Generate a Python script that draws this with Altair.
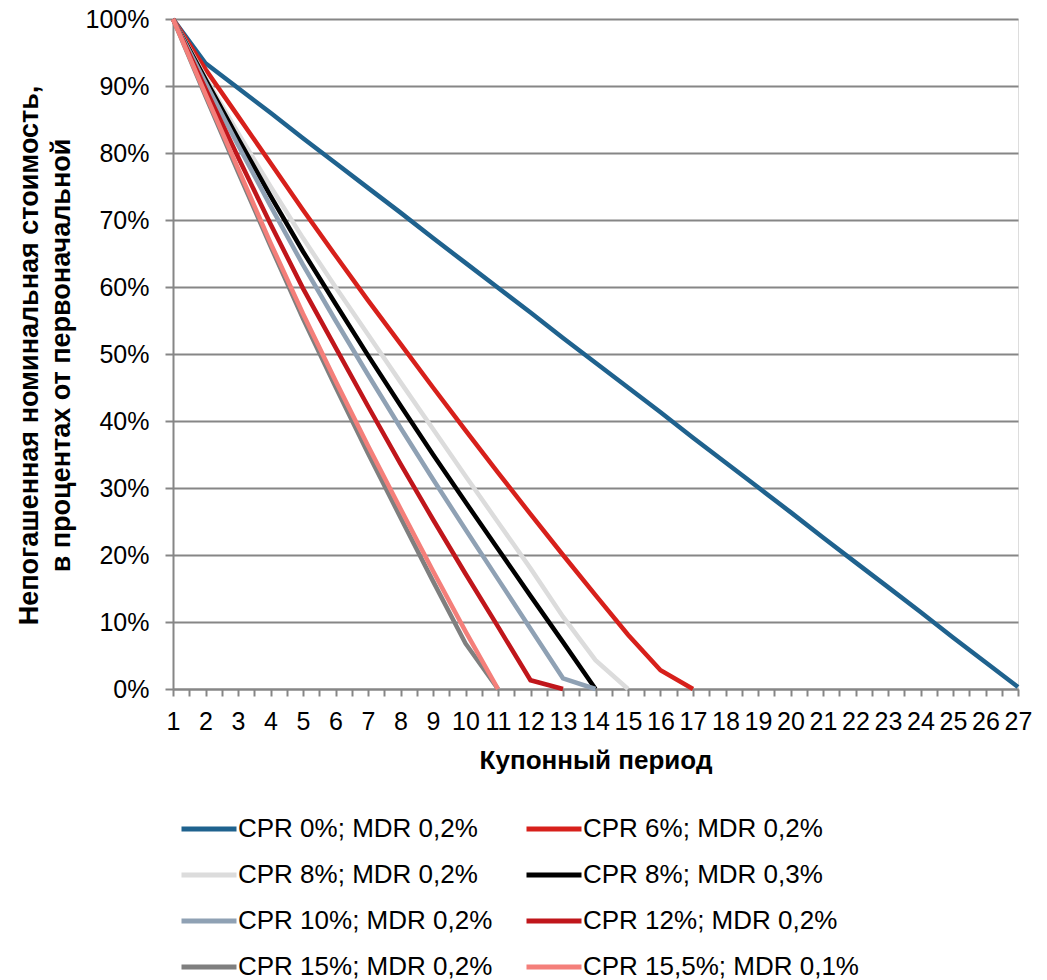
import altair as alt
import pandas as pd

series_names = [
    "CPR 0%; MDR 0,2%", "CPR 6%; MDR 0,2%",
    "CPR 8%; MDR 0,2%", "CPR 8%; MDR 0,3%",
    "CPR 10%; MDR 0,2%", "CPR 12%; MDR 0,2%",
    "CPR 15%; MDR 0,2%", "CPR 15,5%; MDR 0,1%",
]
series_colors = ["#1f628e", "#d7201b", "#dcdcdc", "#000000",
                 "#8fa1b4", "#c0161b", "#7f7f7f", "#f47f7a"]

# remaining nominal value (%) by coupon period, starting at period 1
cpr0_mdr02 = [100, 93.4, 89.7, 86.0, 82.2, 78.5, 74.8, 71.1, 67.3, 63.6, 59.9, 56.2, 52.4, 48.7,
              45.0, 41.3, 37.5, 33.8, 30.1, 26.4, 22.6, 18.9, 15.2, 11.5, 7.7, 4.0, 0.3]
cpr6_mdr02 = [100, 92.5, 85.5, 78.5, 71.5, 64.7, 58.0, 51.5, 45.0, 38.6, 32.3, 26.1, 20.0, 14.0, 8.1, 2.8, 0]
cpr8_mdr02 = [100, 91.3, 83.0, 75.0, 67.3, 60.0, 52.9, 45.8, 38.8, 31.8, 24.9, 18.0, 10.8, 4.3, 0]
cpr8_mdr03 = [100, 91.0, 82.2, 73.6, 65.3, 57.5, 49.8, 42.3, 35.0, 27.9, 20.9, 13.9, 7.0, 0]
cpr10_mdr02 = [100, 90.5, 81.2, 72.1, 63.3, 55.0, 46.9, 39.0, 31.3, 23.8, 16.4, 9.0, 1.6, 0]
cpr12_mdr02 = [100, 89.6, 79.4, 69.4, 59.8, 51.0, 42.2, 33.6, 25.3, 17.2, 9.3, 1.3, 0]
cpr15_mdr02 = [100, 88.5, 77.2, 66.1, 55.3, 45.1, 35.2, 25.6, 16.1, 6.8, 0]
cpr155_mdr01 = [100, 88.8, 77.7, 66.6, 56.0, 46.0, 36.3, 26.9, 17.6, 8.6, 0]

all_series = [cpr0_mdr02, cpr6_mdr02, cpr8_mdr02, cpr8_mdr03,
              cpr10_mdr02, cpr12_mdr02, cpr15_mdr02, cpr155_mdr01]

# legend is filled column by column: left column first, then right column
legend_order = [0, 2, 4, 6, 1, 3, 5, 7]
legend_names = [series_names[i] for i in legend_order]
legend_colors = [series_colors[i] for i in legend_order]

x_tick_values = [v / 2 for v in range(2, 55)]  # 1, 1.5, ..., 27
y_tick_values = list(range(0, 101, 10))

rows = []
for name, vals in zip(series_names, all_series):
    for i, v in enumerate(vals):
        rows.append({"period": i + 1, "value": v, "series": name})
df = pd.DataFrame(rows)

FONT = "Liberation Sans"
GRID = "#868686"

base = alt.Chart(df).mark_line(strokeWidth=4.5).encode(
    x=alt.X("period:Q",
            scale=alt.Scale(domain=[1, 27], nice=False, zero=False),
            axis=alt.Axis(values=x_tick_values,
                          labelExpr="datum.value % 1 == 0 ? '' + datum.value : ''",
                          labelFlush=False, labelOverlap=False,
                          grid=False, tickSize=7, tickWidth=2, tickColor=GRID,
                          domainColor=GRID, domainWidth=2,
                          labelFontSize=25, labelFont=FONT, labelColor="#000000",
                          labelPadding=13,
                          title="Купонный период", titleFont=FONT, titleFontSize=26,
                          titleFontWeight="bold", titleColor="#000000", titleY=58)),
    y=alt.Y("value:Q",
            scale=alt.Scale(domain=[0, 100], nice=False),
            axis=alt.Axis(values=y_tick_values, labelExpr="datum.value + '%'",
                          grid=True, gridColor=GRID, gridWidth=2,
                          tickSize=8, tickWidth=2, tickColor=GRID,
                          domainColor=GRID, domainWidth=2,
                          labelFontSize=25, labelFont=FONT, labelColor="#000000",
                          labelPadding=16,
                          title=["Непогашенная номинальная стоимость,", "в процентах от первоначальной"],
                          titleFont=FONT, titleFontSize=27, titleFontWeight="bold",
                          titleColor="#000000", titleLineHeight=32,
                          titleX=-130, titleY=336)),
    color=alt.Color("series:N",
                    scale=alt.Scale(domain=legend_names, range=legend_colors),
                    legend=alt.Legend(orient="none", legendX=23, legendY=797,
                                      columns=2, title=None,
                                      symbolType="M-5,0H5", symbolSize=121,
                                      symbolStrokeWidth=5, labelOffset=16,
                                      labelFontSize=26, labelFont=FONT, labelColor="#000000",
                                      labelLimit=500, rowPadding=20, columnPadding=23)),
)

layers = [base.transform_filter(alt.datum.series == name) for name in series_names]

chart = alt.layer(*layers).properties(
    width=845, height=670,
    autosize=alt.AutoSizeParams(type="none"),
    padding={"left": 165, "top": 11, "right": 21, "bottom": 296},
).configure_view(stroke=None).configure(background="white")

chart.save("out.html", embed_options={"renderer": "svg", "actions": False})
